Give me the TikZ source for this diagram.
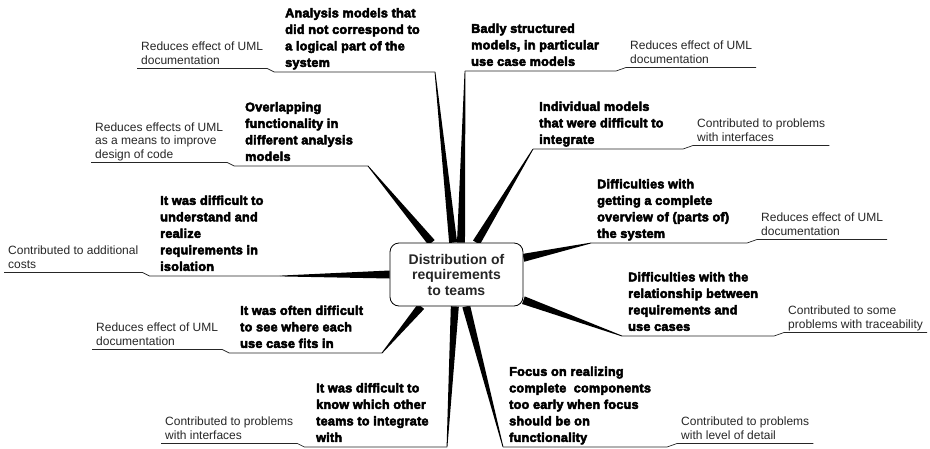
\documentclass[tikz,border=0pt]{standalone}
\usepackage{fontspec}
\setmainfont{Liberation Sans}
\newfontfamily\heavyfont{Liberation Sans Bold}[FakeBold=4,LetterSpace=2]
\usetikzlibrary{calc,backgrounds}
\tikzset{
		% Three node styles for the map: the hub, the problems and their effects
		hub node/.style={rectangle,rounded corners=9pt,draw,thick,fill=white,
			minimum width=133pt,minimum height=63pt,align=center,text=black!85,
			font=\fontsize{14}{15.5}\selectfont\bfseries},
		problem node/.style={anchor=south west,inner xsep=6pt,inner ysep=0pt,
			align=left,execute at end node=\strut,
			font=\heavyfont\fontsize{12.6}{16.5}\selectfont},
		effect node/.style={anchor=south west,inner xsep=4pt,inner ysep=0pt,
			align=left,execute at end node=\strut,text=black!85,
			font=\fontsize{12}{13.5}\selectfont},
		underline/.style={draw,black!85,line width=0.7pt},
		spoke/.style={fill=black}
	}

\begin{document}
\begin{tikzpicture}[x=1pt,y=-1pt]
		\useasboundingbox (0,0) rectangle (930,448);
		\node[hub node] (hub) at (456.5,274.5) {Distribution of\\requirements\\to teams};
		% problems left of the hub
		\node[problem node] (analysis) at (279,72) {Analysis models that\\did not correspond to\\a logical part of the\\system};
		\node[effect node] (analysis effect) at (137,68.5) {Reduces effect of UML\\documentation};
		\coordinate (analysis joint) at (435,72);
		\node[problem node] (overlap) at (239,166) {Overlapping\\functionality in\\different analysis\\models};
		\node[effect node] (overlap effect) at (91,162.5) {Reduces effects of UML\\as a means to improve\\design of code};
		\coordinate (overlap joint) at (368,166);
		\node[problem node] (isolation) at (154,276) {It was difficult to\\understand and\\realize\\requirements in\\isolation};
		\node[effect node] (isolation effect) at (4,272.5) {Contributed to additional\\costs};
		\coordinate (isolation joint) at (280,276);
		\node[problem node] (fit) at (234,353) {It was often difficult\\to see where each\\use case fits in};
		\node[effect node] (fit effect) at (92,349.5) {Reduces effect of UML\\documentation};
		\coordinate (fit joint) at (382,353);
		\node[problem node] (teams) at (310,447) {It was difficult to\\know which other\\teams to integrate\\with};
		\node[effect node] (teams effect) at (161,443.5) {Contributed to problems\\with interfaces};
		\coordinate (teams joint) at (447,447);
		\foreach \p in {analysis,overlap,isolation,fit,teams}
			\draw[underline] (\p\space effect.south west) -- (\p\space effect.south east) -- ++(7,3.5) -- (\p\space joint);
		% problems right of the hub
		\node[problem node] (badly) at (465,71) {Badly structured\\models, in particular\\use case models};
		\node[effect node] (badly effect) at (626,67.5) {Reduces effect of UML\\documentation};
		\node[problem node] (integrate) at (533,149) {Individual models\\that were difficult to\\integrate};
		\node[effect node] (integrate effect) at (693,145.5) {Contributed to problems\\with interfaces};
		\node[problem node] (overview) at (591,243) {Difficulties with\\getting a complete\\overview of (parts of)\\the system};
		\node[effect node] (overview effect) at (757,239.5) {Reduces effect of UML\\documentation};
		\node[problem node] (relation) at (622,336) {Difficulties with the\\relationship between\\requirements and\\use cases};
		\node[effect node] (relation effect) at (784,332.5) {Contributed to some\\problems with traceability};
		\node[problem node] (focus) at (503,447) {Focus on realizing\\complete\ \ components\\too early when focus\\should be on\\functionality};
		\node[effect node] (focus effect) at (677,443.5) {Contributed to problems\\with level of detail};
		\foreach \p in {badly,integrate,overview,relation,focus}
			\draw[underline] (\p\space effect.south east) -- (\p\space effect.south west) -- ++(-10,3.5) -- (\p.south west);
		% tapered spokes from the hub
		\begin{scope}[on background layer]
			\foreach \j/\a in {analysis joint/96,overlap joint/128,isolation joint/180,fit joint/222,teams joint/267,
				badly.south west/82,integrate.south west/58,overview.south west/14,relation.south west/339,focus.south west/287}
				\fill[spoke] ($(\j)!0.4pt!90:(hub.\a)$) -- ($(hub.\a)!4pt!-90:(\j)$) -- ($(hub.\a)!4pt!90:(\j)$) -- ($(\j)!0.4pt!-90:(hub.\a)$) -- cycle;
		\end{scope}
\end{tikzpicture}
\end{document}
